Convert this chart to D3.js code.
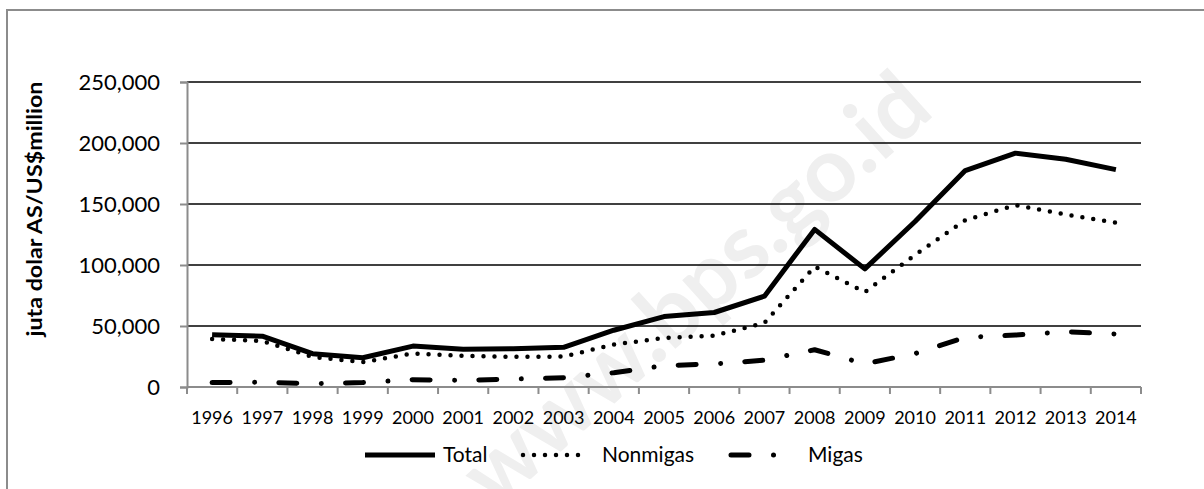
<!DOCTYPE html>
<html>
<head>
<meta charset="utf-8">
<script src="https://cdn.jsdelivr.net/npm/d3@7/dist/d3.min.js"></script>
<style>
  body { margin: 0; background: #fff; }
  svg { display: block; font-family: Lato, "Open Sans", sans-serif; }
</style>
</head>
<body>
<div id="chart"></div>
<script>
// data (juta dolar AS / US$ million)
const years = ["1996", "1997", "1998", "1999", "2000", "2001", "2002", "2003", "2004", "2005",
  "2006", "2007", "2008", "2009", "2010", "2011", "2012", "2013", "2014"];
const totalValues = [42929, 41680, 27337, 24003, 33515, 30962, 31289, 32551, 46525, 57701,
  61066, 74473, 129197, 96829, 135663, 177436, 191691, 186629, 178179];
const nonmigasValues = [39333, 37756, 24683, 20322, 27495, 25490, 24763, 24940, 34792, 40243,
  42103, 52541, 98644, 77849, 108250, 136734, 149125, 141362, 134719];
const migasValues = [3596, 3924, 2654, 3681, 6019, 5472, 6526, 7611, 11733, 17458,
  18963, 21933, 30553, 18981, 27413, 40702, 42565, 45267, 43460];
const yTicks = [0, 50000, 100000, 150000, 200000, 250000];
const seriesNames = ["Total", "Nonmigas", "Migas"];

const width = 1204;
const height = 489;
const plot = { left: 187, right: 1141, top: 82, bottom: 387 };

const svg = d3.select("#chart")
  .append("svg")
  .attr("width", width)
  .attr("height", height);

// outer chart border (only top and left edges are visible in the picture)
svg.append("rect")
  .attr("x", 7)
  .attr("y", 10)
  .attr("width", width + 20)
  .attr("height", height + 20)
  .attr("fill", "none")
  .attr("stroke", "#8c8c8c")
  .attr("stroke-width", 2);

// watermark
svg.append("text")
  .attr("transform", "translate(716,312) rotate(-42)")
  .attr("text-anchor", "middle")
  .attr("font-size", 90)
  .attr("font-weight", "bold")
  .attr("fill", "#efefef")
  .text("www.bps.go.id");

const x = d3.scaleBand()
  .domain(years)
  .range([plot.left, plot.right]);

const y = d3.scaleLinear()
  .domain([0, 250000])
  .range([plot.bottom, plot.top]);

// gridlines
svg.append("g")
  .selectAll("line")
  .data(yTicks.filter(d => d > 0))
  .enter()
  .append("line")
  .attr("x1", plot.left)
  .attr("x2", plot.right)
  .attr("y1", d => y(d))
  .attr("y2", d => y(d))
  .attr("stroke", "#000")
  .attr("stroke-width", 1.5);

// y axis
const yAxis = svg.append("g")
  .attr("transform", `translate(${plot.left},0)`)
  .call(d3.axisLeft(y)
    .tickValues(yTicks)
    .tickFormat(d3.format(","))
    .tickSize(7)
    .tickPadding(20));
yAxis.select(".domain").attr("stroke", "#8c8c8c").attr("stroke-width", 2);
yAxis.selectAll(".tick line").attr("stroke", "#8c8c8c").attr("stroke-width", 2);
yAxis.selectAll(".tick text")
  .attr("font-size", 22)
  .attr("font-family", "Lato")
  .attr("fill", "#000");

// x axis: labels at band centres, ticks at band edges
const xAxis = svg.append("g")
  .attr("transform", `translate(0,${plot.bottom})`)
  .call(d3.axisBottom(x).tickSize(0).tickPadding(24));
xAxis.select(".domain").remove();
xAxis.selectAll(".tick text")
  .attr("font-size", 18)
  .attr("font-family", "Lato")
  .attr("fill", "#000");

svg.append("line")
  .attr("x1", plot.left)
  .attr("x2", plot.right)
  .attr("y1", plot.bottom)
  .attr("y2", plot.bottom)
  .attr("stroke", "#8c8c8c")
  .attr("stroke-width", 2);

svg.append("g")
  .selectAll("line")
  .data(years.map(d => x(d)).concat([plot.right]))
  .enter()
  .append("line")
  .attr("x1", d => d)
  .attr("x2", d => d)
  .attr("y1", plot.bottom)
  .attr("y2", plot.bottom + 7)
  .attr("stroke", "#8c8c8c")
  .attr("stroke-width", 2);

// y axis title
svg.append("text")
  .attr("transform", "translate(42,209) rotate(-90)")
  .attr("text-anchor", "middle")
  .attr("font-size", 21)
  .attr("font-weight", "bold")
  .attr("textLength", 255)
  .attr("lengthAdjust", "spacingAndGlyphs")
  .attr("fill", "#000")
  .text("juta dolar AS/US$million");

// line styles
const styles = {
  Total: { width: 5, dash: null },
  Nonmigas: { width: 4.5, dash: "0,11" },
  Migas: { width: 5, dash: "18,24.5,0.01,24.2" }
};

const line = d3.line()
  .x((d, i) => x(years[i]) + x.bandwidth() / 2)
  .y(d => y(d));

const seriesData = [totalValues, nonmigasValues, migasValues];

seriesData.forEach((vals, k) => {
  const st = styles[seriesNames[k]];
  svg.append("path")
    .datum(vals)
    .attr("d", line)
    .attr("fill", "none")
    .attr("stroke", "#000")
    .attr("stroke-width", st.width)
    .attr("stroke-linejoin", "round")
    .attr("stroke-linecap", st.dash ? "round" : "butt")
    .attr("stroke-dasharray", st.dash);
});

// legend
const legendItems = [
  { name: "Total", x1: 365, x2: 435, tx: 443 },
  { name: "Nonmigas", x1: 523, x2: 584, tx: 602 },
  { name: "Migas", x1: 731, x2: 797, tx: 808 }
];
const legendY = 455;

const lg = svg.append("g");
legendItems.forEach(it => {
  const st = styles[it.name];
  lg.append("line")
    .attr("x1", it.x1)
    .attr("x2", it.x2)
    .attr("y1", legendY)
    .attr("y2", legendY)
    .attr("stroke", "#000")
    .attr("stroke-width", st.width)
    .attr("stroke-linecap", st.dash ? "round" : "butt")
    .attr("stroke-dasharray", st.dash);
  lg.append("text")
    .attr("x", it.tx)
    .attr("y", legendY)
    .attr("dy", "0.35em")
    .attr("font-size", 21)
    .attr("fill", "#000")
    .text(it.name);
});
</script>
</body>
</html>
